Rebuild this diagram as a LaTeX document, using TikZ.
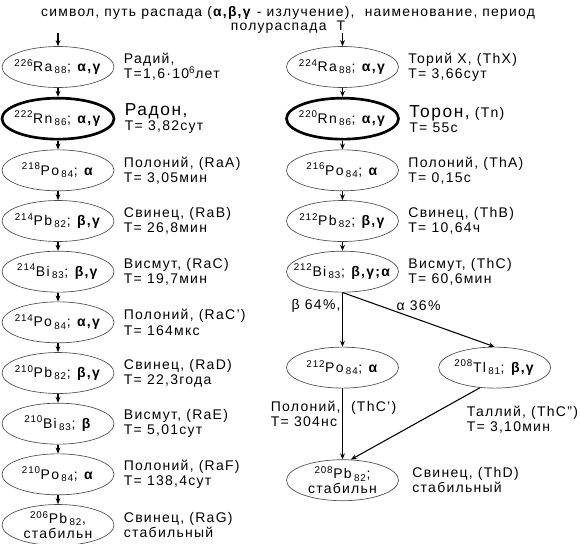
\documentclass[tikz,border=0pt]{standalone}
\usepackage{fontspec}
\setmainfont{Liberation Sans}[LetterSpace=9]
\usetikzlibrary{arrows.meta,positioning,shapes.geometric}
\newcommand{\nuc}[3]{\textsuperscript{#1}#2\,\textsubscript{#3}}
\newcommand{\ray}[1]{\textbf{#1}}
\newcommand{\bigname}[1]{{\fontsize{13}{14}\selectfont #1}}
\tikzset{
  nucl/.style={draw=black!70, ellipse, line width=0.5pt, minimum width=84pt,
               minimum height=30.75pt, inner xsep=-12pt, inner ysep=-3pt,
               align=center, font=\fontsize{10.5}{11}\selectfont},
  gas/.style={nucl, draw=black, line width=2pt},
  decay/.style={-{Stealth[length=4.5pt,width=3.6pt]}, line width=0.8pt},
  info/.style={align=left, inner sep=1pt, font=\fontsize{10.5}{11.3}\selectfont}
}
\begin{document}
\begin{tikzpicture}[x=0.75pt, y=-0.75pt, node distance=6.75pt and 6pt]
  \useasboundingbox (0,0) rectangle (580,543);
  \node[info, align=center, font=\fontsize{10.4}{10.6}\selectfont] (head) at (288,19.5)
    {символ, путь распада (\ray{α,β,γ} - излучение),~~наименование, период\\полураспада~~Т};
  % uranium-radium row
  \coordinate (utop) at (58,33);
  \node[nucl] (ra226) at (58,67) {\nuc{226}{Ra}{88}; \ray{α,γ}};
  \node[gas, below=of ra226] (rn222) {\nuc{222}{Rn}{86}; \ray{α,γ}};
  \node[nucl, below=of rn222] (po218) {\nuc{218}{Po}{84}; \ray{α}};
  \node[nucl, below=of po218] (pb214) {\nuc{214}{Pb}{82}; \ray{β,γ}};
  \node[nucl, below=of pb214] (bi214) {\nuc{214}{Bi}{83}; \ray{β,γ}};
  \node[nucl, below=of bi214] (po214) {\nuc{214}{Po}{84}; \ray{α,γ}};
  \node[nucl, below=of po214] (pb210) {\nuc{210}{Pb}{82}; \ray{β,γ}};
  \node[nucl, below=of pb210] (bi210) {\nuc{210}{Bi}{83}; \ray{β}};
  \node[nucl, below=of bi210] (po210) {\nuc{210}{Po}{84}; \ray{α}};
  \node[nucl, below=of po210] (pb206) {\nuc{206}{Pb}{82},\\стабильн};
  \draw[decay](utop)--(ra226); \draw[decay](ra226)--(rn222); \draw[decay](rn222)--(po218);
  \draw[decay](po218)--(pb214); \draw[decay](pb214)--(bi214); \draw[decay](bi214)--(po214);
  \draw[decay](po214)--(pb210); \draw[decay](pb210)--(bi210); \draw[decay](bi210)--(po210);
  \draw[decay](po210)--(pb206);
  \node[info, right=of ra226] (ra226t) {Радий,\\T=1,6·10\textsuperscript{6}лет};
  \node[info, right=of rn222] (rn222t) {\bigname{Радон,}\\T= 3,82сут};
  \node[info, right=of po218] (po218t) {Полоний, (RaA)\\T= 3,05мин};
  \node[info, right=of pb214] (pb214t) {Свинец, (RaB)\\T= 26,8мин};
  \node[info, right=of bi214] (bi214t) {Висмут, (RaC)\\T= 19,7мин};
  \node[info, right=of po214] (po214t) {Полоний, (RaC')\\T= 164мкс};
  \node[info, right=of pb210] (pb210t) {Свинец, (RaD)\\T= 22,3года};
  \node[info, right=of bi210] (bi210t) {Висмут, (RaE)\\T= 5,01сут};
  \node[info, right=of po210] (po210t) {Полоний, (RaF)\\T= 138,4сут};
  \node[info, right=of pb206] (pb206t) {Свинец, (RaG)\\стабильный};
  % thorium row, branching at ThC
  \coordinate (ttop) at (342.5,33);
  \node[nucl] (ra224) at (342.5,67) {\nuc{224}{Ra}{88}; \ray{α,γ}};
  \node[gas, below=of ra224] (rn220) {\nuc{220}{Rn}{86}; \ray{α,γ}};
  \node[nucl, below=of rn220] (po216) {\nuc{216}{Po}{84}; \ray{α}};
  \node[nucl, below=of po216] (pb212) {\nuc{212}{Pb}{82}; \ray{β,γ}};
  \node[nucl, below=of pb212] (bi212) {\nuc{212}{Bi}{83}; \ray{β,γ;α}};
  \node[nucl, below=40.7pt of bi212] (po212) {\nuc{212}{Po}{84}; \ray{α}};
  \node[nucl, right=29.6pt of po212] (tl208) {\nuc{208}{Tl}{81}; \ray{β,γ}};
  \node[nucl, below=53.2pt of po212] (pb208) {\nuc{208}{Pb}{82};\\стабильн};
  \draw[decay](ttop)--(ra224); \draw[decay](ra224)--(rn220); \draw[decay](rn220)--(po216);
  \draw[decay](po216)--(pb212); \draw[decay](pb212)--(bi212);
  \draw[decay](bi212.south)--node[info, left, pos=.25]{β 64\%,}(po212);
  \draw[decay](bi212.south)--node[info, above=5pt, pos=.5]{α 36\%}(tl208.north);
  \draw[decay](po212)--node[info, left, pos=.36]{Полоний,\\T= 304нс}
                       node[info, right=5pt, pos=.27]{(ThC')}(pb208);
  \draw[decay](tl208.234)--(pb208.68);
  \node[info, right=of ra224] (ra224t) {Торий X, (ThX)\\T= 3,66сут};
  \node[info, right=of rn220] (rn220t) {\bigname{Торон,} (Tn)\\T= 55с};
  \node[info, right=of po216] (po216t) {Полоний, (ThA)\\T= 0,15с};
  \node[info, right=of pb212] (pb212t) {Свинец, (ThB)\\T= 10,64ч};
  \node[info, right=of bi212] (bi212t) {Висмут, (ThC)\\T= 60,6мин};
  \node[info, below=12pt of tl208.south, anchor=north west, xshift=-22pt] (tl208t)
    {Таллий, (ThC")\\T= 3,10мин};
  \node[info, right=9pt of pb208] (pb208t) {Свинец, (ThD)\\стабильный};
\end{tikzpicture}
\end{document}
